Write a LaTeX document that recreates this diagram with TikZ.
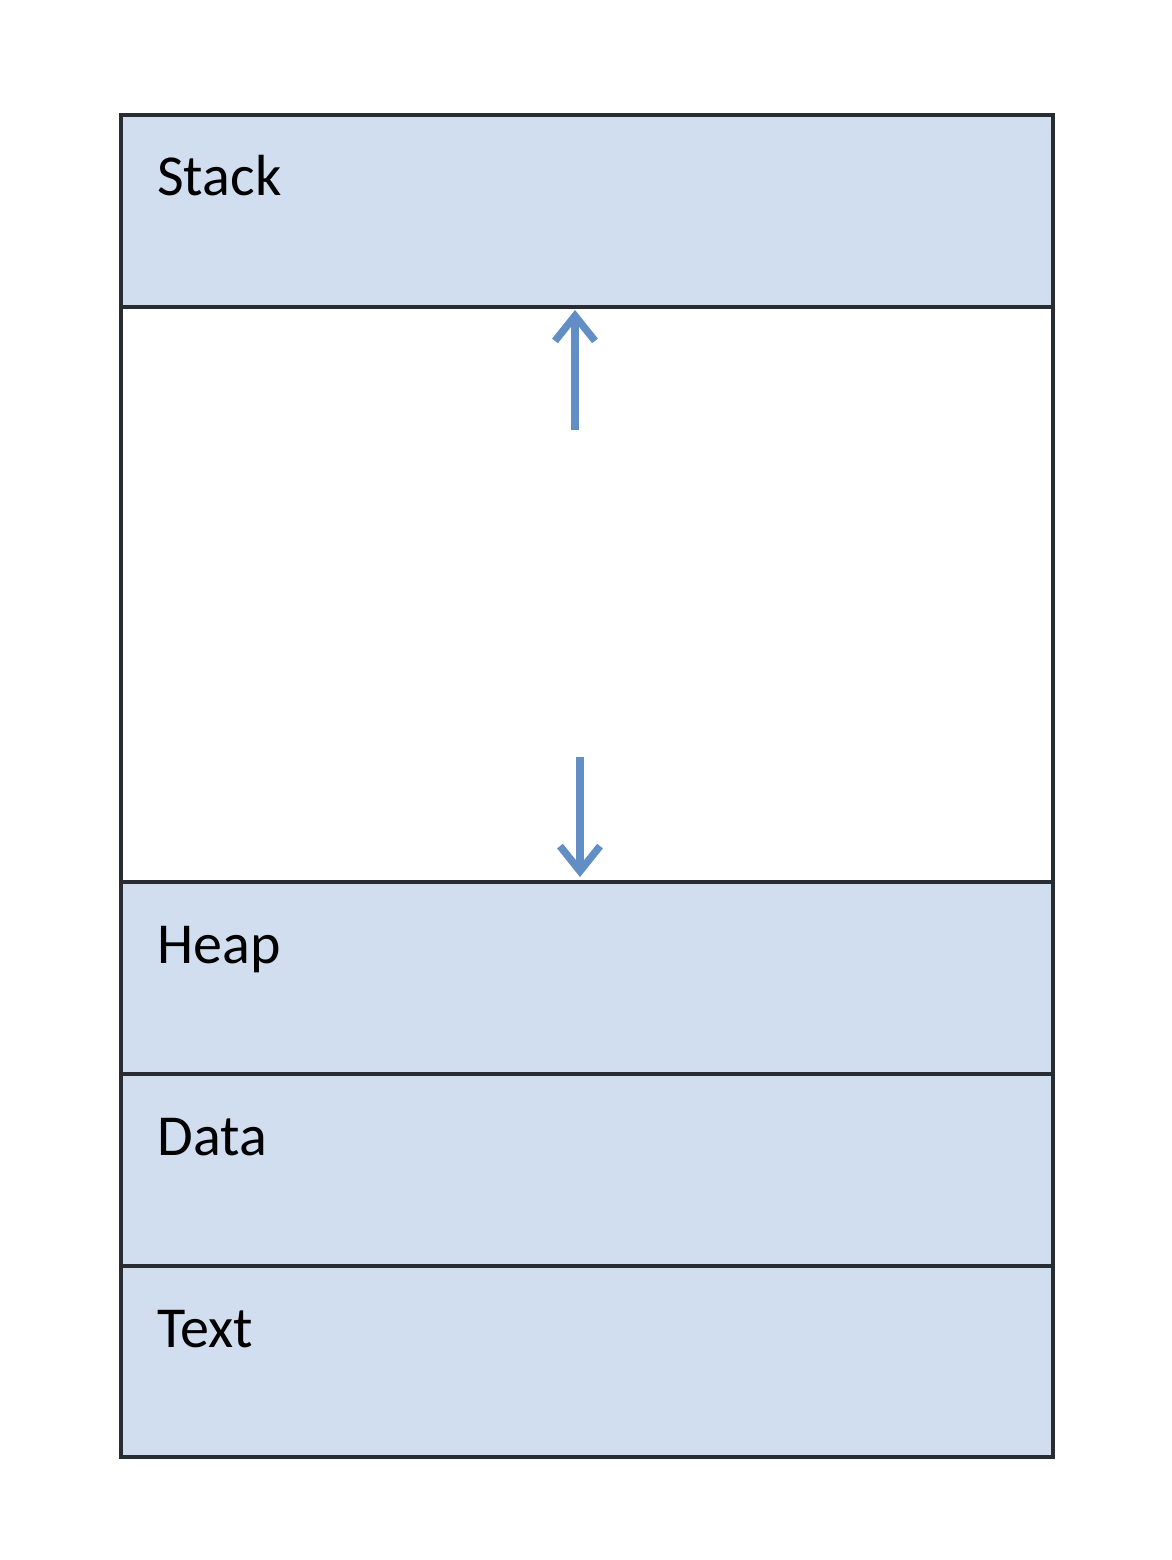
\documentclass[tikz,border=0pt]{standalone}
\usepackage{fontspec}
\setmainfont{Carlito}
\usetikzlibrary{positioning,arrows.meta}

\definecolor{segfill}{RGB}{208,222,240}
\definecolor{segline}{RGB}{40,45,52}
\definecolor{arrowblue}{RGB}{96,142,197}

\tikzset{
  seg/.style={draw=segline, line width=1.9pt, fill=segfill, minimum width=18.64cm, inner sep=0pt, outer sep=0pt},
  freeseg/.style={seg, fill=white},
  seglabel/.style={anchor=base west, inner sep=0pt, font=\fontsize{33}{40}\selectfont},
  growarrow/.style={-{Straight Barb[length=0.5cm, width=0.8cm, line width=4.2pt]}, line width=0.15cm, draw=arrowblue}
}

\begin{document}
\begin{tikzpicture}

    \useasboundingbox (0,0) rectangle (23.44,-31.2);

    % Memory segments
    \node[seg, minimum height=3.84cm] (stack) at (11.74,-4.22) {};
    \node[freeseg, minimum height=11.5cm] (free) at (11.74,-11.89) {};
    \node[seg, minimum height=3.84cm] (heap) at (11.74,-19.56) {};
    \node[seg, minimum height=3.84cm] (data) at (11.74,-23.40) {};
    \node[seg, minimum height=3.82cm] (text) at (11.74,-27.23) {};

    % Labels
    \node[seglabel] (stacklbl) at ([xshift=0.72cm, yshift=-1.6cm]stack.north west) {Stack};
    \node[seglabel] (heaplbl) at ([xshift=0.72cm, yshift=-1.62cm]heap.north west) {Heap};
    \node[seglabel] (datalbl) at ([xshift=0.72cm, yshift=-1.62cm]data.north west) {Data};
    \node[seglabel] (textlbl) at ([xshift=0.72cm, yshift=-1.62cm]text.north west) {Text};

    % Growth arrows
    \coordinate (upfrom) at (11.5,-8.6);
    \coordinate (downfrom) at (11.6,-15.14);
    \draw[growarrow] (upfrom) -- ([yshift=-0.06cm]upfrom |- stack.south);
    \draw[growarrow] (downfrom) -- ([yshift=0.1cm]downfrom |- heap.north);

\end{tikzpicture}
\end{document}
